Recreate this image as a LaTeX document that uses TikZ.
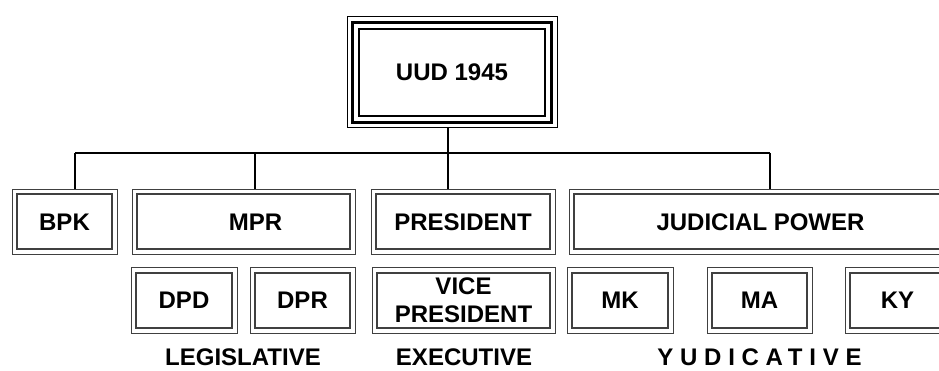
\documentclass[tikz,border=0pt]{standalone}
\usepackage{fontspec}
\setmainfont{Liberation Sans}
\usepackage{tikz}

\begin{document}
\begin{tikzpicture}[x=1pt,y=-1pt]
\tikzset{every node/.style={font=\fontsize{24}{28}\selectfont\bfseries,inner sep=0pt,align=center}}
\tikzset{rootbox/.style={draw=black,line width=1pt,minimum width=210pt,minimum height=111pt,
  path picture={
  \draw[line width=3.5pt] ([shift={(5.5pt,-5.5pt)}]path picture bounding box.north west) rectangle ([shift={(-5.5pt,5.5pt)}]path picture bounding box.south east);
  \draw[line width=1.2pt] ([shift={(12pt,-12pt)}]path picture bounding box.north west) rectangle ([shift={(-12pt,12pt)}]path picture bounding box.south east);}}}
\tikzset{topbox/.style={draw=black!75,line width=1pt,minimum height=65pt,
  path picture={\draw[line width=2pt] ([shift={(5pt,-5pt)}]path picture bounding box.north west) rectangle ([shift={(-5pt,5pt)}]path picture bounding box.south east);}}}
\tikzset{subbox/.style={draw=black!75,line width=1pt,minimum height=65pt,
  path picture={\draw[line width=1.2pt] ([shift={(5pt,-5pt)}]path picture bounding box.north west) rectangle ([shift={(-5pt,5pt)}]path picture bounding box.south east);}}}
\useasboundingbox (0,0) rectangle (939,371);
\clip (0,0) rectangle (939,371);

% top
\node (1) at (452,72.5) [rootbox] {UUD 1945};

% first row
\node (2) at (64.5,222) [topbox,minimum width=105pt] {BPK};
\node (3) at (243.5,222) [topbox,minimum width=223pt,label={[xshift=12pt]center:MPR}] {};
\node (4) at (463,222) [topbox,minimum width=184pt] {PRESIDENT};
\node (5) at (760.5,222) [topbox,minimum width=383pt] {JUDICIAL POWER};

% second row
\node (6) at (184,300.5) [subbox,minimum width=106pt] {DPD};
\node (7) at (302.5,300.5) [subbox,minimum width=105pt] {DPR};
\node (8) at (463.5,300.5) [subbox,minimum width=183pt] {VICE\\PRESIDENT};
\node (9) at (620,300.5) [subbox,minimum width=106pt] {MK};
\node (10) at (759.5,300.5) [subbox,minimum width=105pt] {MA};
\node (11) at (897.5,300.5) [subbox,minimum width=105pt] {KY};

% branch names
\node (12) at (243,357) {LEGISLATIVE};
\node (13) at (464,357) {EXECUTIVE};
\node (14) at (759.5,357) {\addfontfeature{LetterSpace=28}YUDICATIVE};

% connectors
\coordinate (a) at (75,153);
\coordinate (b) at (255,153);
\coordinate (c) at (448,153);
\coordinate (d) at (770,153);
\draw[line width=1.2pt] (a) -- (d);
\draw[line width=1.2pt] (1.south -| c) -- (4.north -| c);
\draw[line width=1.2pt] (a) -- (a |- 2.north);
\draw[line width=1.2pt] (b) -- (b |- 3.north);
\draw[line width=1.2pt] (d) -- (d |- 5.north);
\end{tikzpicture}
\end{document}
